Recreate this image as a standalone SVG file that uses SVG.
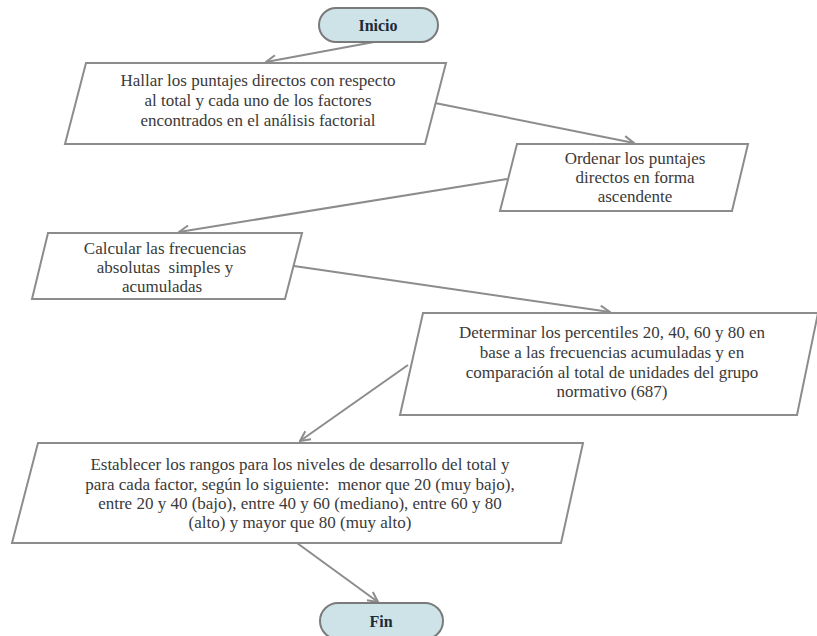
<svg xmlns="http://www.w3.org/2000/svg" width="817" height="636" viewBox="0 0 817 636">
<defs>
<style>
.box{fill:#ffffff;stroke:#8c8c8c;stroke-width:2}
.term{fill:#cde3e8;stroke:#7a7a7a;stroke-width:2}
.t{font-family:"Liberation Serif","Times New Roman",serif;font-size:17px;fill:#3a3a3a;text-anchor:middle;white-space:pre}
.tb{font-family:"Liberation Serif","Times New Roman",serif;font-size:16px;font-weight:bold;fill:#1e2a35;text-anchor:middle}
.c{fill:none;stroke:#8c8c8c;stroke-width:2}
</style>
<marker id="ah" viewBox="0 0 12 12" refX="11" refY="6" markerWidth="12" markerHeight="12" markerUnits="userSpaceOnUse" orient="auto">
<path d="M1,1 L11,6 L1,11" fill="none" stroke="#8c8c8c" stroke-width="2"/>
</marker>
</defs>
<rect width="817" height="636" fill="#ffffff"/>
<g id="connectors">
<line class="c" x1="374" y1="42" x2="266" y2="62" marker-end="url(#ah)"/>
<line class="c" x1="435" y1="103" x2="634" y2="143" marker-end="url(#ah)"/>
<line class="c" x1="507" y1="179" x2="179" y2="232" marker-end="url(#ah)"/>
<line class="c" x1="294" y1="266" x2="610" y2="312" marker-end="url(#ah)"/>
<line class="c" x1="408" y1="365" x2="300" y2="441" marker-end="url(#ah)"/>
<line class="c" x1="297" y1="543" x2="378" y2="602" marker-end="url(#ah)"/>
</g>
<g id="inicio">
<rect class="term" x="319" y="8" width="119" height="34" rx="17"/>
<text class="tb" x="378" y="31">Inicio</text>
</g>
<g id="n1">
<polygon class="box" points="86,63 446,63 425,144 65,144"/>
<text class="t" x="258" y="86">Hallar los puntajes directos con respecto</text>
<text class="t" x="258" y="106">al total y cada uno de los factores</text>
<text class="t" x="258" y="126">encontrados en el análisis factorial</text>
</g>
<g id="n2">
<polygon class="box" points="517,144 748,144 732,211 500,211"/>
<text class="t" x="635" y="164">Ordenar los puntajes</text>
<text class="t" x="635" y="183">directos en forma</text>
<text class="t" x="635" y="202">ascendente</text>
</g>
<g id="n3">
<polygon class="box" points="48,233 302,233 285,299 32,299"/>
<text class="t" x="165" y="254">Calcular las frecuencias</text>
<text class="t" x="165" y="273">absolutas  simples y</text>
<text class="t" x="162" y="292">acumuladas</text>
</g>
<g id="n4">
<polygon class="box" points="423,313 818,313 797,415 400,415"/>
<text class="t" x="612" y="338">Determinar los percentiles 20, 40, 60 y 80 en</text>
<text class="t" x="612" y="358">base a las frecuencias acumuladas y en</text>
<text class="t" x="612" y="378">comparación al total de unidades del grupo</text>
<text class="t" x="612" y="397">normativo (687)</text>
</g>
<g id="n5">
<polygon class="box" points="38,443 583,443 561,543 12,543"/>
<text class="t" x="300" y="470">Establecer los rangos para los niveles de desarrollo del total y</text>
<text class="t" x="300" y="490">para cada factor, según lo siguiente:  menor que 20 (muy bajo),</text>
<text class="t" x="300" y="509">entre 20 y 40 (bajo), entre 40 y 60 (mediano), entre 60 y 80</text>
<text class="t" x="300" y="528">(alto) y mayor que 80 (muy alto)</text>
</g>
<g id="fin">
<rect class="term" x="320" y="603" width="123" height="36" rx="18"/>
<text class="tb" x="381" y="627">Fin</text>
</g>
</svg>
